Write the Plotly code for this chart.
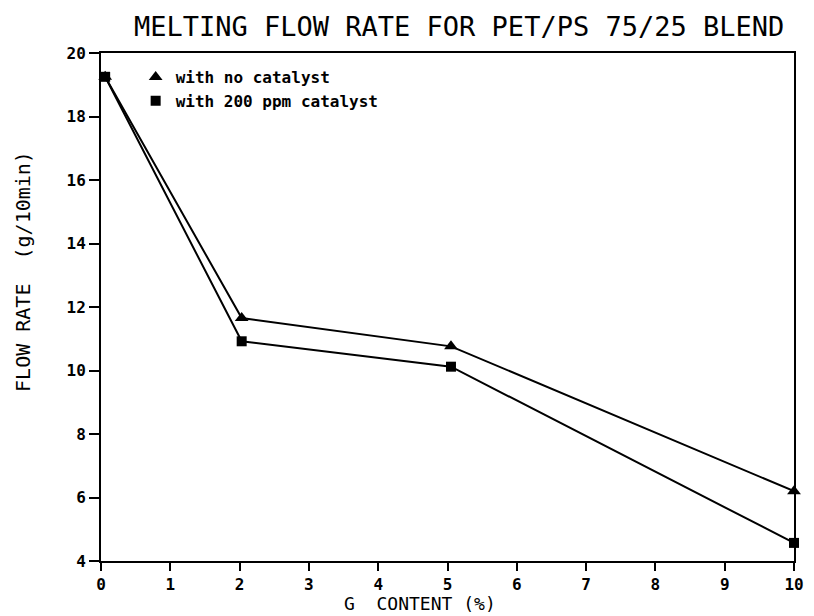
import plotly.graph_objects as go

# Data
g_content = [0.06, 2.03, 5.05, 10.0]
no_catalyst = [19.25, 11.65, 10.76, 6.2]
with_catalyst = [19.25, 10.92, 10.12, 4.57]
x_ticks = list(range(0, 11))
y_ticks = list(range(4, 21, 2))

FONT = "DejaVu Sans Mono"

fig = go.Figure()
for name, ys, sym, sz in [
    ("with no catalyst", no_catalyst, "triangle-up", 12),
    ("with 200 ppm catalyst", with_catalyst, "square", 10),
]:
    fig.add_trace(go.Scatter(x=g_content, y=ys, mode="lines", showlegend=False,
                             line=dict(color="black", width=2), cliponaxis=False))
    fig.add_trace(go.Scatter(x=g_content, y=ys, mode="markers", name=name,
                             marker=dict(symbol=sym, size=sz, color="black"),
                             cliponaxis=False))

axis_common = dict(showgrid=False, zeroline=False, showline=True, linecolor="black",
                   linewidth=2, mirror=True, ticks="outside", tickcolor="black",
                   tickwidth=2, ticklabeloverflow="allow",
                   tickfont=dict(family=FONT, size=16, color="black", weight="bold"))
fig.update_xaxes(range=[0, 10], tickvals=x_ticks, ticklen=8, **axis_common)
fig.update_yaxes(range=[4, 20], tickvals=y_ticks, ticklen=10, **axis_common)

fig.update_layout(
    width=814, height=616,
    margin=dict(l=101, r=10, t=53, b=55),
    paper_bgcolor="white", plot_bgcolor="white",
    showlegend=True,
    legend=dict(x=0.05, y=0.986, xanchor="left", yanchor="top",
                bgcolor="rgba(0,0,0,0)", tracegroupgap=0, itemwidth=30,
                font=dict(family=FONT, size=16, color="black", weight="bold")),
    annotations=[
        dict(text="MELTING FLOW RATE FOR PET/PS 75/25 BLEND", xref="paper", yref="paper",
             x=0.516, y=1.0, yshift=27, yanchor="middle", xanchor="center", showarrow=False,
             font=dict(family=FONT, size=27, color="black")),
        dict(text="G  CONTENT (%)", xref="paper", yref="paper", x=0.461, y=0, yshift=-42,
             xanchor="center", yanchor="middle", showarrow=False,
             font=dict(family=FONT, size=18, color="black")),
        dict(text="FLOW RATE  (g/10min)", xref="paper", yref="paper", x=0, xshift=-78,
             y=0.569, xanchor="center", yanchor="middle", textangle=-90, showarrow=False,
             font=dict(family=FONT, size=20, color="black")),
    ],
)

fig.write_html("out.html", config={"displayModeBar": False},
               post_script="document.body.style.margin='0px';")
